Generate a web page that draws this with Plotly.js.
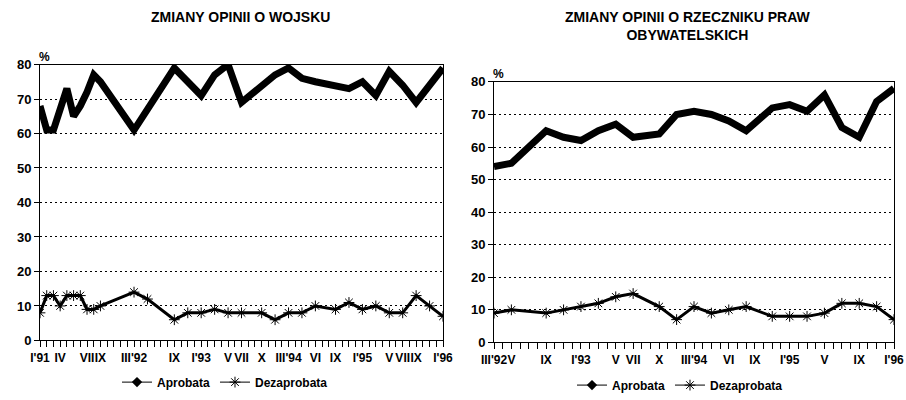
<!DOCTYPE html>
<html>
<head>
<meta charset="utf-8">
<script src="https://cdn.plot.ly/plotly-3.0.1.min.js"></script>
<style>html,body{margin:0;padding:0;background:#fff;}#chart{width:906px;height:400px;}</style>
</head>
<body>
<div id="chart"></div>
<script>
// Left chart: ZMIANY OPINII O WOJSKU (x = months since I'91)
const months1 = [0,1,2,3,4,5,6,7,8,9,14,16,20,22,24,26,28,30,33,35,37,39,41,44,46,48,50,52,54,56,58,60];
const aprob1  = [68,61,61,67,73,65,68,72,77,75,61,67,79,75,71,77,80,69,74,77,79,76,75,74,73,75,71,78,74,69,74,79];
const dezap1  = [8,13,13,10,13,13,13,9,9,10,14,12,6,8,8,9,8,8,8,6,8,8,10,9,11,9,10,8,8,13,10,7];
const tickvals1 = [0,3,7,9,14,20,24,28,30,33,37,41,44,48,52,54,56,60];
const ticktext1 = ["I'91","IV","VII","IX","III'92","IX","I'93","V","VII","X","III'94","VI","IX","I'95","V","VII","IX","I'96"];

// Right chart: ZMIANY OPINII O RZECZNIKU PRAW OBYWATELSKICH
const months2 = [14,16,20,22,24,26,28,30,33,35,37,39,41,43,46,48,50,52,54,56,58,60];
const aprob2  = [54,55,65,63,62,65,67,63,64,70,71,70,68,65,72,73,71,76,66,63,74,78];
const dezap2  = [9,10,9,10,11,12,14,15,11,7,11,9,10,11,8,8,8,9,12,12,11,7];
const tickvals2 = [14,16,20,24,28,30,33,37,41,44,48,52,56,60];
const ticktext2 = ["III'92","V","IX","I'93","V","VII","X","III'94","VI","IX","I'95","V","IX","I'96"];

const yTicks = [0,10,20,30,40,50,60,70,80];
const names = ["Aprobata","Dezaprobata"];

const FAM = "Liberation Sans, Arial, sans-serif";
const f = (s) => ({family: FAM, size: s, color: '#000', weight: 'bold'});

function mainTraces(x, a, d, xa, ya) {
  return [
    {x: x, y: a, xaxis: xa, yaxis: ya, mode: 'lines', name: names[0], showlegend: false,
     line: {color: '#000', width: 7}, hoverinfo: 'x+y'},
    {x: x, y: d, xaxis: xa, yaxis: ya, mode: 'lines+markers', name: names[1], showlegend: false,
     line: {color: '#000', width: 3},
     marker: {symbol: 'asterisk-open', size: 9, color: '#000', line: {color: '#000', width: 1}}}
  ];
}
function legendTraces(xa, ya, lg) {
  return [
    {x: [null], y: [null], xaxis: xa, yaxis: ya, legend: lg, mode: 'lines+markers', name: names[0],
     line: {color: '#000', width: 1}, marker: {symbol: 'diamond', size: 8, color: '#000'}},
    {x: [null], y: [null], xaxis: xa, yaxis: ya, legend: lg, mode: 'lines+markers', name: names[1],
     line: {color: '#000', width: 1},
     marker: {symbol: 'asterisk-open', size: 9, color: '#000', line: {color: '#000', width: 1}}}
  ];
}

const data = [].concat(
  mainTraces(months1, aprob1, dezap1, 'x', 'y'),
  mainTraces(months2, aprob2, dezap2, 'x2', 'y2'),
  legendTraces('x', 'y', 'legend'),
  legendTraces('x2', 'y2', 'legend2')
);

function xAxis(dom, range, tv, tt, anchor) {
  return {
    domain: dom, range: range, anchor: anchor,
    tickmode: 'array', tickvals: tv, ticktext: tt,
    ticks: 'outside', ticklen: 6, tickwidth: 1, tickcolor: '#000',
    minor: {tickmode: 'linear', tick0: 0, dtick: 1, ticks: 'outside', ticklen: 6, tickwidth: 1, tickcolor: '#000', showgrid: false},
    showgrid: false, zeroline: false,
    showline: true, mirror: true, linecolor: '#000', linewidth: 1,
    tickfont: f(12), tickangle: 0, ticklabeloverflow: 'allow', fixedrange: true
  };
}
function yAxis(dom, anchor) {
  return {
    domain: dom, range: [0, 80], anchor: anchor,
    tickmode: 'array', tickvals: yTicks,
    ticks: 'outside', ticklen: 5, tickwidth: 1, tickcolor: '#000',
    showgrid: true, gridcolor: '#000', gridwidth: 1, griddash: '2px,3px',
    zeroline: false,
    showline: true, mirror: true, linecolor: '#000', linewidth: 1,
    tickfont: f(13), fixedrange: true
  };
}

const W = 906, H = 400;
const layout = {
  width: W, height: H,
  margin: {l: 0, r: 0, t: 0, b: 0},
  paper_bgcolor: '#fff', plot_bgcolor: '#fff',
  font: f(12),
  xaxis: xAxis([40/W, 443/W], [0, 60], tickvals1, ticktext1, 'y'),
  yaxis: yAxis([1-343/H, 1-65/H], 'x'),
  xaxis2: xAxis([494/W, 894/W], [14, 60], tickvals2, ticktext2, 'y2'),
  yaxis2: yAxis([1-345/H, 1-82.5/H], 'x2'),
  legend: {orientation: 'h', x: 225/W, xanchor: 'center', y: 15/H, yanchor: 'middle',
           font: f(12), itemwidth: 30, bgcolor: 'rgba(0,0,0,0)'},
  legend2: {orientation: 'h', x: 680/W, xanchor: 'center', y: 12/H, yanchor: 'middle',
            font: f(12), itemwidth: 30, bgcolor: 'rgba(0,0,0,0)'},
  annotations: [
    {text: 'ZMIANY OPINII O WOJSKU', xref: 'paper', yref: 'paper', x: 240/W, y: 1-17/H,
     xanchor: 'center', yanchor: 'middle', showarrow: false, font: f(14)},
    {text: 'ZMIANY OPINII O RZECZNIKU PRAW<br>OBYWATELSKICH', xref: 'paper', yref: 'paper', x: 688/W, y: 1-26/H,
     xanchor: 'center', yanchor: 'middle', showarrow: false, font: f(14)},
    {text: '%', xref: 'paper', yref: 'paper', x: 44/W, y: 1-57/H,
     xanchor: 'center', yanchor: 'middle', showarrow: false, font: f(12)},
    {text: '%', xref: 'paper', yref: 'paper', x: 498/W, y: 1-75/H,
     xanchor: 'center', yanchor: 'middle', showarrow: false, font: f(12)}
  ]
};

Plotly.newPlot('chart', data, layout, {displayModeBar: false, staticPlot: true});
</script>
</body>
</html>
